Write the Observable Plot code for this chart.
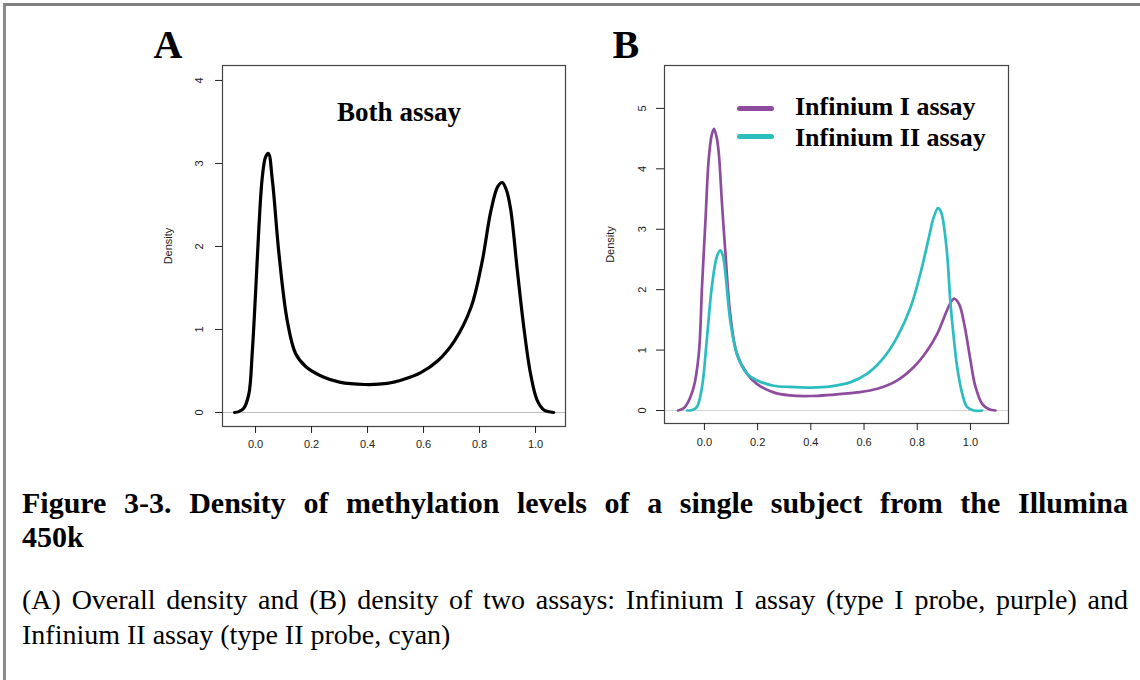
<!DOCTYPE html>
<html>
<head>
<meta charset="utf-8">
<script src="https://cdn.jsdelivr.net/npm/d3@7"></script>
<script src="https://cdn.jsdelivr.net/npm/@observablehq/plot@0.6"></script>
<style>
  html, body { margin: 0; padding: 0; background: #fff; }
  #page { position: relative; width: 1140px; height: 680px; overflow: hidden; background: #fff; }
  #border { position: absolute; left: 3px; top: 3px; right: -10px; bottom: -10px;
            border-top: 3px solid #808080; border-left: 3px solid #8a8a8a; }
  .panel { position: absolute; top: 0; }
  #panelA { left: 140px; }
  #panelB { left: 590px; }
  .legend { position: absolute; font-family: "Liberation Serif", "Times New Roman", serif;
            font-weight: bold; font-size: 26px; color: #000; }
  .legend .row { position: absolute; left: 0; white-space: nowrap; }
  .legend .sw { position: absolute; width: 37px; height: 5px; border-radius: 3px; }
  .caption { position: absolute; left: 22px; width: 1106px; font-family: "Liberation Serif", "Times New Roman", serif; color: #000; }
  .caption .just { text-align: justify; text-align-last: justify; white-space: nowrap; }
  #cap1 { top: 486px; font-size: 30px; line-height: 34px; font-weight: bold; }
  #cap2 { top: 582px; font-size: 28px; line-height: 35px; }
</style>
</head>
<body>
<div id="page">
  <div id="border"></div>
  <div id="panelA" class="panel"></div>
  <div id="panelB" class="panel"></div>
  <div id="legend"></div>
  <div id="cap1" class="caption"></div>
  <div id="cap2" class="caption"></div>
</div>
<script>
// ---------- Data ----------
const xTicks = [0, 0.2, 0.4, 0.6, 0.8, 1.0];
const yTicksA = [0, 1, 2, 3, 4];
const yTicksB = [0, 1, 2, 3, 4, 5];

// Panel A: both assays
const xA = [-0.075, -0.06, -0.042, -0.024, -0.012, 0.000, 0.012, 0.024, 0.036, 0.046, 0.060, 0.084, 0.113, 0.143, 0.180,
            0.240, 0.300, 0.390, 0.470, 0.530, 0.590, 0.650, 0.710, 0.770, 0.810, 0.840, 0.865, 0.881, 0.896, 0.911,
            0.935, 0.958, 0.982, 1.006, 1.030, 1.065];
const densityA = [0, 0.01, 0.05, 0.22, 0.71, 1.43, 2.23, 2.83, 3.08, 3.12, 2.80, 1.90, 1.11, 0.71, 0.55,
                  0.43, 0.365, 0.337, 0.35, 0.40, 0.48, 0.62, 0.86, 1.27, 1.83, 2.42, 2.72, 2.77, 2.68, 2.45,
                  1.71, 1.03, 0.47, 0.145, 0.03, 0];

// Panel B: Infinium I (type I probes)
const xI = [-0.099, -0.08, -0.065, -0.04, -0.021, -0.009, 0.004, 0.016, 0.027, 0.036, 0.046, 0.054, 0.066, 0.079, 0.097,
            0.122, 0.160, 0.197, 0.260, 0.320, 0.400, 0.475, 0.575, 0.650, 0.725, 0.787, 0.837, 0.875, 0.912, 0.930,
            0.941, 0.952, 0.962, 0.981, 1.000, 1.019, 1.044, 1.070, 1.094];
const densityI = [0, 0.03, 0.11, 0.39, 0.94, 2.05, 3.15, 4.15, 4.55, 4.66, 4.52, 4.26, 3.43, 2.60, 1.60,
                  0.94, 0.61, 0.44, 0.30, 0.25, 0.24, 0.26, 0.30, 0.36, 0.50, 0.72, 0.99, 1.27, 1.66, 1.82,
                  1.85, 1.80, 1.71, 1.33, 0.83, 0.39, 0.11, 0.02, 0];

// Panel B: Infinium II (type II probes)
const xII = [-0.065, -0.045, -0.028, -0.009, 0.010, 0.028, 0.047, 0.060, 0.070, 0.079, 0.097, 0.122, 0.160, 0.197, 0.260,
             0.320, 0.400, 0.475, 0.550, 0.612, 0.675, 0.725, 0.775, 0.812, 0.844, 0.862, 0.878, 0.890, 0.897, 0.912,
             0.925, 0.937, 0.950, 0.969, 0.987, 1.012, 1.044];
const densityII = [0, 0.01, 0.06, 0.39, 1.22, 2.05, 2.55, 2.65, 2.55, 2.27, 1.49, 0.94, 0.61, 0.50, 0.41,
                   0.39, 0.38, 0.40, 0.47, 0.61, 0.88, 1.22, 1.71, 2.27, 2.87, 3.20, 3.35, 3.28, 3.15, 2.60,
                   1.77, 1.22, 0.72, 0.28, 0.06, 0, 0];

const seriesNames = ["Infinium I assay", "Infinium II assay"];
const seriesColors = ["#8e4c9f", "#2cbdbf"];
const panelTitleA = "Both assay";
const panelLetters = ["A", "B"];
const yLabel = "Density";
const captionTitle = ["Figure 3-3. Density of methylation levels of a single subject from the Illumina", "450k"];
const captionText = ["(A) Overall density and (B) density of two assays: Infinium I assay (type I probe, purple) and",
                     "Infinium II assay (type II probe, cyan)"];

// ---------- Build tables ----------
const dataA = xA.map((x, i) => ({x, d: densityA[i]}));
const dataB = [
  ...xI.map((x, i) => ({x, d: densityI[i], s: seriesNames[0]})),
  ...xII.map((x, i) => ({x, d: densityII[i], s: seriesNames[1]}))
];

const serif = "Liberation Serif, Times New Roman, serif";
const fmtX = d3.format(".1f");
const fmtY = d3.format("d");

const plotA = Plot.plot({
  width: 440, height: 460,
  marginLeft: 82, marginRight: 15, marginTop: 65, marginBottom: 34,
  x: {domain: [-0.118, 1.107]},
  y: {domain: [-0.169, 4.18]},
  style: {fontFamily: "Liberation Sans, Arial, sans-serif", fontSize: "11px", color: "#222", background: "transparent", overflow: "visible"},
  marks: [
    Plot.ruleY([0], {stroke: "#bdbdbd", strokeWidth: 1}),
    Plot.frame({stroke: "#444", strokeWidth: 1.2}),
    Plot.axisX({ticks: xTicks, tickFormat: fmtX, tickSize: 7, tickPadding: 7, label: null}),
    Plot.axisY({ticks: yTicksA, tickFormat: fmtY, tickSize: 7, tickPadding: 13, tickRotate: -90, label: null}),
    Plot.text([yLabel], {frameAnchor: "left", dx: -54, rotate: -90, textAnchor: "middle", lineAnchor: "middle", fontSize: 11}),
    Plot.line(dataA, {x: "x", y: "d", stroke: "#000", strokeWidth: 3.2, curve: "catmull-rom"}),
    Plot.text([panelTitleA], {frameAnchor: "top", dx: 5, dy: 55, lineAnchor: "bottom", fontFamily: serif, fontWeight: "bold", fontSize: 27, fill: "#000"}),
    Plot.text([panelLetters[0]], {frameAnchor: "top-left", dx: -69, dy: -8, textAnchor: "start", lineAnchor: "bottom", fontFamily: serif, fontWeight: "bold", fontSize: 40, fill: "#000"})
  ]
});
document.getElementById("panelA").append(plotA);

const plotB = Plot.plot({
  width: 430, height: 460,
  marginLeft: 74, marginRight: 12, marginTop: 65, marginBottom: 37,
  x: {domain: [-0.150, 1.143]},
  y: {domain: [-0.215, 5.71]},
  color: {domain: seriesNames, range: seriesColors},
  style: {fontFamily: "Liberation Sans, Arial, sans-serif", fontSize: "11px", color: "#222", background: "transparent", overflow: "visible"},
  marks: [
    Plot.ruleY([0], {stroke: "#d6d6d6", strokeWidth: 1.2}),
    Plot.frame({stroke: "#444", strokeWidth: 1.2}),
    Plot.axisX({ticks: xTicks, tickFormat: fmtX, tickSize: 7, tickPadding: 8, label: null}),
    Plot.axisY({ticks: yTicksB, tickFormat: fmtY, tickSize: 8, tickPadding: 11, tickRotate: -90, label: null}),
    Plot.text([yLabel], {frameAnchor: "left", dx: -54, rotate: -90, textAnchor: "middle", lineAnchor: "middle", fontSize: 11}),
    Plot.line(dataB, {x: "x", y: "d", z: "s", stroke: "s", strokeWidth: 2.7, curve: "catmull-rom"}),
    Plot.text([panelLetters[1]], {frameAnchor: "top-left", dx: -52, dy: -8, textAnchor: "start", lineAnchor: "bottom", fontFamily: serif, fontWeight: "bold", fontSize: 40, fill: "#000"})
  ]
});
document.getElementById("panelB").append(plotB);

// ---------- Legend (panel B) ----------
const legend = document.getElementById("legend");
legend.className = "legend";
legend.style.left = "737px";
legend.style.top = "92px";
seriesNames.forEach((name, i) => {
  const sw = document.createElement("div");
  sw.className = "sw";
  sw.style.background = seriesColors[i];
  sw.style.top = (14 + i * 28) + "px";
  sw.style.left = "0px";
  legend.append(sw);
  const row = document.createElement("div");
  row.className = "row";
  row.textContent = name;
  row.style.left = "58px";
  row.style.top = (i * 31) + "px";
  row.style.lineHeight = "30px";
  legend.append(row);
});

// ---------- Caption ----------
const cap1 = document.getElementById("cap1");
captionTitle.forEach((t, i) => {
  const div = document.createElement("div");
  if (i === 0) div.className = "just";
  div.textContent = t;
  cap1.append(div);
});
const cap2 = document.getElementById("cap2");
captionText.forEach((t, i) => {
  const div = document.createElement("div");
  if (i === 0) div.className = "just";
  div.textContent = t;
  cap2.append(div);
});
</script>
</body>
</html>
